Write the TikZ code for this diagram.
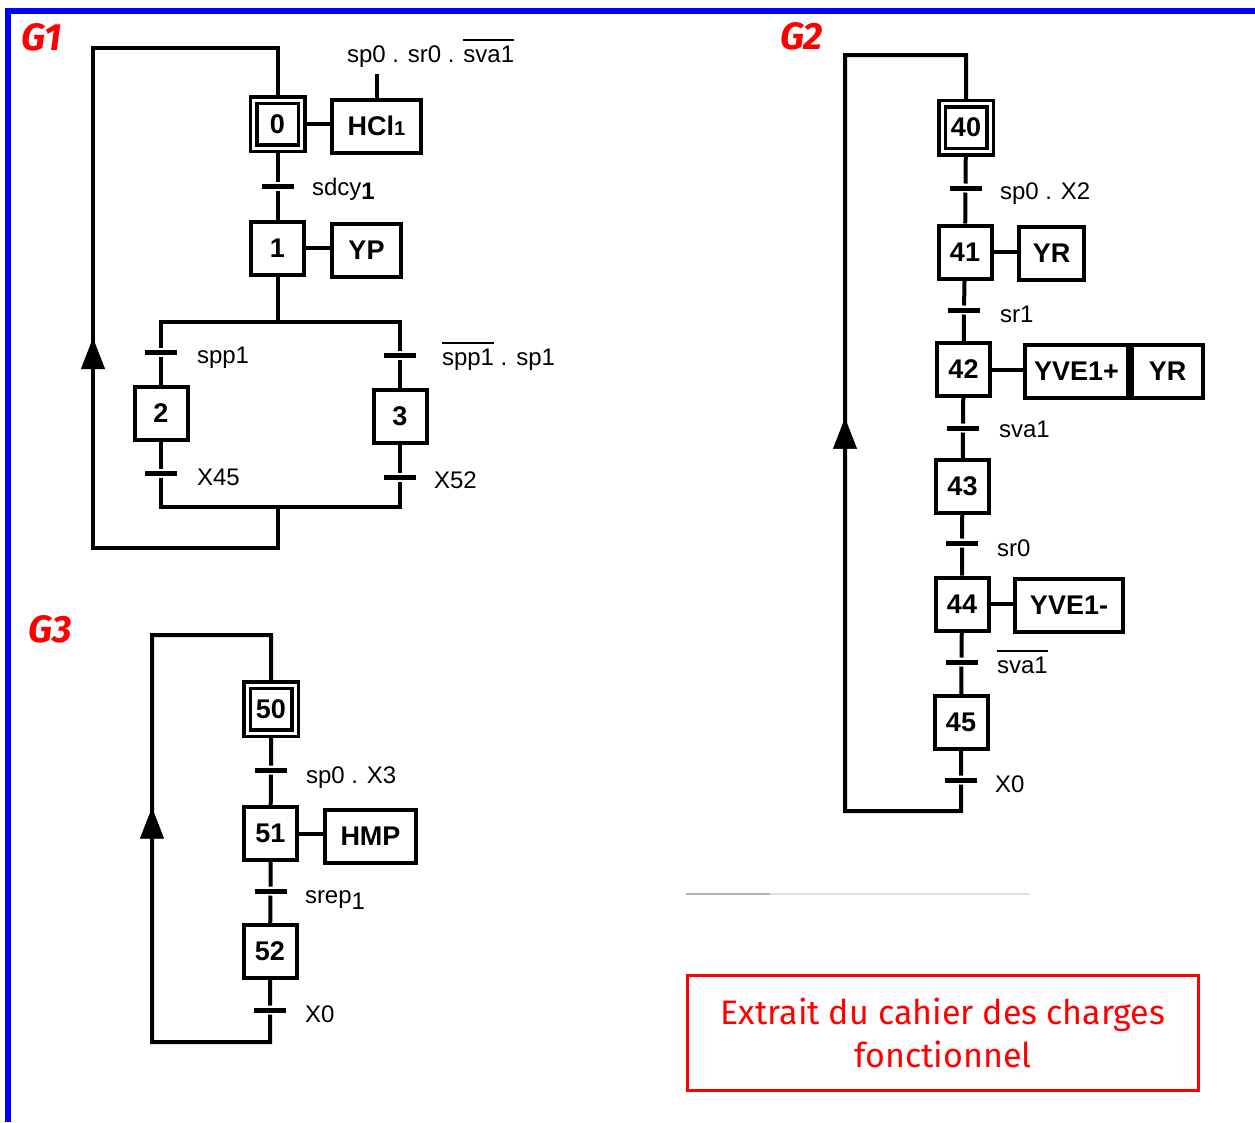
\documentclass[tikz,border=0pt]{standalone}
\usepackage{fontspec}
\setmainfont{Liberation Sans}
\newfontfamily\redfont{Fira Sans}
\usetikzlibrary{arrows.meta,decorations.markings,backgrounds}
\newcommand\ovl[1]{\vbox{\hrule height 1.6pt\kern 4.5pt\hbox{#1}}}
\begin{document}
\begin{tikzpicture}[x=1pt,y=-1pt,line width=4pt,
  stepbox/.style={draw, line width=4pt, minimum width=53pt, minimum height=53pt, inner sep=0pt, font=\fontsize{27}{30}\selectfont\bfseries},
  initbox/.style={draw, line width=3.5pt, double, double distance=3pt, minimum width=48pt, minimum height=48pt, inner sep=0pt, font=\fontsize{27}{30}\selectfont\bfseries},
  actbox/.style={draw, line width=4pt, minimum height=53pt, inner sep=0pt, font=\fontsize{27}{30}\selectfont\bfseries},
  trans/.style={fill=black, minimum width=32pt, minimum height=5pt, inner sep=0pt},
  tlabel/.style={anchor=base west, inner sep=0pt, font=\fontsize{24}{28}\selectfont},
  link/.style={draw=black, line width=4pt},
  uparrow/.style={postaction={decorate}, decoration={markings, mark=at position #1 with {\arrow[black]{Triangle[length=31pt,width=24pt]}}}},
  redtitle/.style={text=red, inner sep=0pt, font=\redfont\bfseries\itshape\fontsize{38}{40}\selectfont},
]
\useasboundingbox (0,0) rectangle (1255,1122);
\draw[blue, line width=6pt] (8,1122) -- (8,11) -- (1255,11);

% ---------------- G1
\node[redtitle] (g1) at (42,37.5) {G1};
\node[initbox] (s0) at (277.5,124) {0};
\node[actbox, minimum width=89pt] (a0) at (376.5,126) {HCl{\fontsize{20}{20}\selectfont 1}};
\node[tlabel] (c0) at (345,62) {sp0 . sr0 . \ovl{sva1}};
\node[trans] (t01) at (277.5,186) {};
\node[tlabel] (l01) at (310,195) {sdcy\raisebox{-4pt}{\bfseries 1}};
\node[stepbox] (s1) at (277.5,248) {1};
\node[actbox, minimum width=69pt] (a1) at (366.5,250) {YP};
\coordinate (d1) at (277.5,322);
\node[trans] (t12) at (161,352) {};
\node[tlabel] (l12) at (195,363) {spp1};
\node[stepbox] (s2) at (161,413.5) {2};
\node[trans] (t2) at (161,473) {};
\node[tlabel] (l2) at (195,485) {X45};
\node[trans] (t13) at (400,355) {};
\node[tlabel] (l13) at (440,365) {\ovl{spp1} . sp1};
\node[stepbox] (s3) at (400,416.5) {3};
\node[trans] (t3) at (400,477) {};
\node[tlabel] (l3) at (432,488) {X52};
\coordinate (j1) at (277.5,507);
\coordinate (r1a) at (277.5,548);
\coordinate (r1b) at (93,548);
\coordinate (r1c) at (93,48);
\coordinate (r1d) at (277.5,48);

% ---------------- G2
\node[redtitle] (g2) at (801.5,36) {G2};
\node[initbox] (s40) at (966,127.5) {40};
\node[trans] (t40) at (965.5,188) {};
\node[tlabel] (l40) at (998,199) {sp0 . X2};
\node[stepbox] (s41) at (965,252) {41};
\node[actbox, minimum width=65pt] (a41) at (1051.5,253.5) {YR};
\node[trans] (t41) at (964,310) {};
\node[tlabel] (l41) at (998,322) {sr1};
\node[stepbox] (s42) at (963.5,369.5) {42};
\node[actbox, minimum width=103pt] (a42) at (1076.5,371) {YVE1+};
\node[actbox, minimum width=71pt] (a42b) at (1167.5,371) {YR};
\node[trans] (t42) at (963,428) {};
\node[tlabel] (l42) at (997,437) {sva1};
\node[stepbox] (s43) at (962.5,486.5) {43};
\node[trans] (t43) at (962,543) {};
\node[tlabel] (l43) at (995,556) {sr0};
\node[stepbox] (s44) at (962,604) {44};
\node[actbox, minimum width=108pt] (a44) at (1069,605.5) {YVE1-};
\node[trans] (t44) at (961.5,662) {};
\node[tlabel] (l44) at (995,673) {\ovl{sva1}};
\node[stepbox] (s45) at (961,722.5) {45};
\node[trans] (t45) at (961,780) {};
\node[tlabel] (l45) at (993,792) {X0};
\coordinate (j2) at (961,811);
\coordinate (r2b) at (845,811);
\coordinate (r2c) at (845,55);
\coordinate (r2d) at (966,55);

% ---------------- G3
\node[redtitle] (g3) at (50.5,629) {G3};
\node[initbox] (s50) at (271,709) {50};
\node[trans] (t50) at (271,770) {};
\node[tlabel] (l50) at (304,783) {sp0 . X3};
\node[stepbox] (s51) at (270.5,833.5) {51};
\node[actbox, minimum width=91pt] (a51) at (370.5,836) {HMP};
\node[trans] (t51) at (270.5,891) {};
\node[tlabel] (l51) at (303,903) {srep\raisebox{-6pt}{1}};
\node[stepbox] (s52) at (270,951.5) {52};
\node[trans] (t52) at (270,1010) {};
\node[tlabel] (l52) at (303,1022) {X0};
\coordinate (j3) at (270,1042);
\coordinate (r3b) at (152,1042);
\coordinate (r3c) at (152,635);
\coordinate (r3d) at (271,635);

% ---------------- note
\draw[gray!60, line width=1.2pt] (686,894) -- (770,894);
\draw[gray!25, line width=1.2pt] (770,894) -- (1030,894);
\node[draw=red, line width=2.5pt, minimum width=511pt, minimum height=115pt, inner sep=0pt, text=red, align=center, font=\redfont\fontsize{34}{43}\selectfont] (note) at (943,1033) {Extrait du cahier des charges\\fonctionnel};

% ---------------- connectors
\begin{scope}[on background layer]
  % G1
  \path[link] (s0) -- (t01) -- (s1);
  \path[link] (s0.east) -- (s0.east -| a0.west);
  \path[link, shorten >=5pt] (a0.north) -- (a0.north |- c0.south);
  \path[link] (s1.east) -- (s1.east -| a1.west);
  \path[link] (s1.south) -- (d1);
  \path[link] (s2) -- (t12) -- (t12 |- d1) -- (t13 |- d1) -- (t13) -- (s3);
  \path[link] (s2) -- (t2) -- (t2 |- j1) -- (t3 |- j1) -- (t3) -- (s3);
  \path[link] (j1) -- (r1a) -- (r1b) -- (r1c) -- (r1d) -- (s0);
  \path[uparrow=0.42] (r1b) -- (r1c);
  % G2
  \path[link] (s40) -- (t40) -- (s41) -- (t41) -- (s42) -- (t42) -- (s43) -- (t43) -- (s44) -- (t44) -- (s45) -- (t45) -- (j2) -- (r2b) -- (r2c) -- (r2d) -- (s40);
  \path[link] (s41.east) -- (s41.east -| a41.west);
  \path[link] (s42.east) -- (s42.east -| a42.west);
  \path[link] (s44.east) -- (s44.east -| a44.west);
  \path[uparrow=0.52] (r2b) -- (r2c);
  % G3
  \path[link] (s50) -- (t50) -- (s51) -- (t51) -- (s52) -- (t52) -- (j3) -- (r3b) -- (r3c) -- (r3d) -- (s50);
  \path[link] (s51.east) -- (s51.east -| a51.west);
  \path[uparrow=0.576] (r3b) -- (r3c);
\end{scope}
\end{tikzpicture}
\end{document}
